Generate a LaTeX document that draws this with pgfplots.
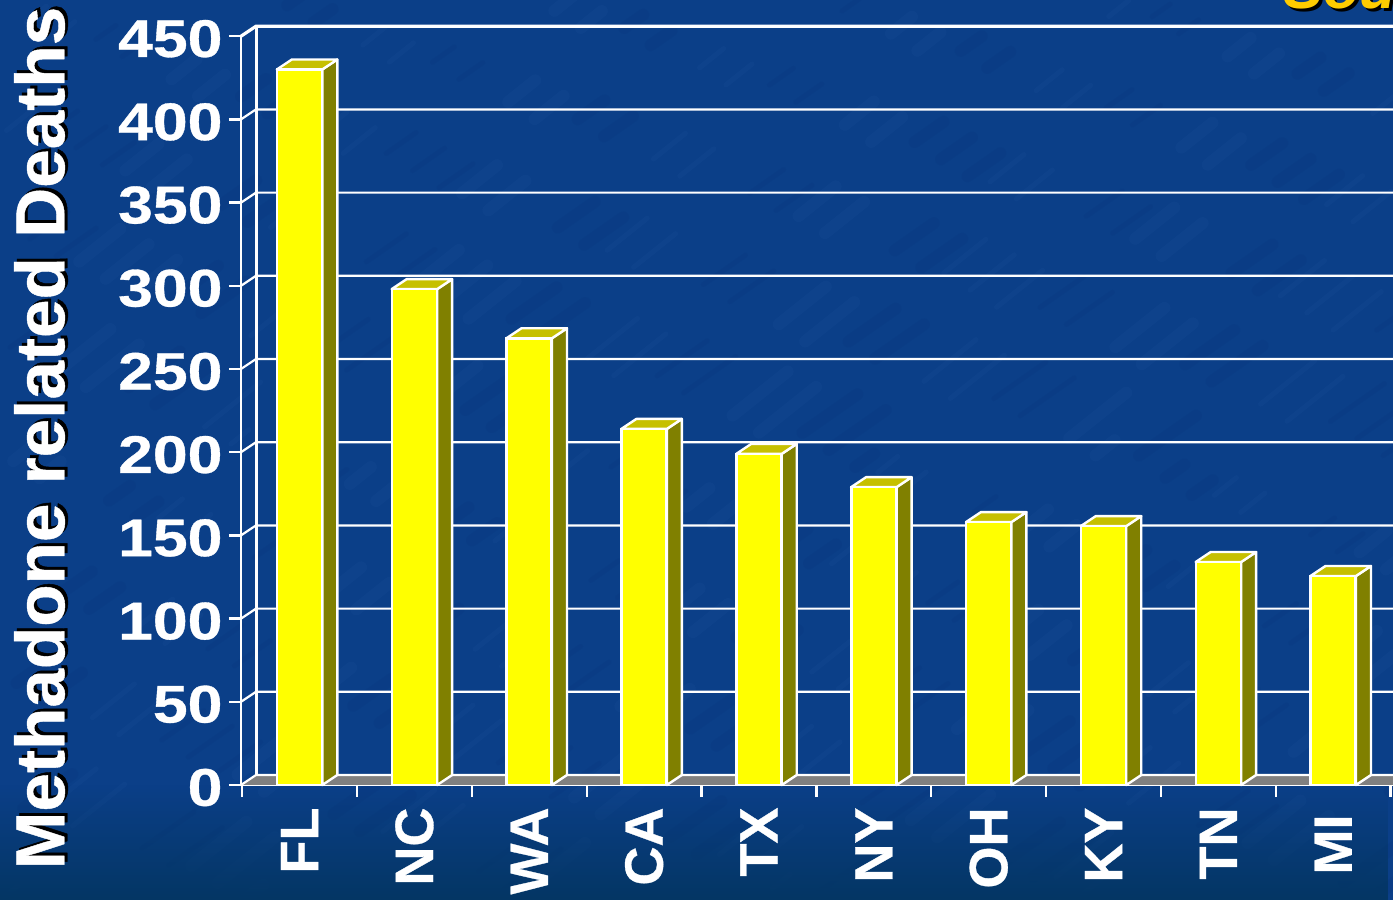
\documentclass[border=0pt]{standalone}
\usepackage{pgfplots}
\usepackage{pgfplotstable}
\usepackage{fontspec}
\usetikzlibrary{fadings}
\setmainfont[BoldFeatures={FakeBold=0.6}]{Liberation Sans}
\pgfplotsset{compat=1.18}
\definecolor{bgtop}{RGB}{11,63,136}
\definecolor{bgbot}{RGB}{4,54,100}
\definecolor{barfront}{RGB}{255,255,0}
\definecolor{barside}{RGB}{128,128,0}
\definecolor{bartop}{RGB}{198,192,0}
\definecolor{floorgray}{RGB}{128,128,128}
\definecolor{gold}{RGB}{255,204,0}
\definecolor{streak}{RGB}{70,130,200}
\definecolor{streakd}{RGB}{0,40,110}
\pgfplotstableread{
x v
0 430
1 298
2 268.5
3 214
4 199
5 179
6 158
7 155.6
8 134
9 125.6
}\deaths
\newcommand\dx{0.1305}
\newcommand\dy{6}
\newcommand\hw{0.198}
\newcommand\xl{-0.51}
\newcommand\xr{9.52}
% depth faces of one bar: centre, value
\newcommand\faces[2]{%
  \pgfmathsetmacro\xa{#1+\hw}%
  \pgfmathsetmacro\xb{#1+\hw+\dx}%
  \pgfmathsetmacro\xc{#1-\hw+\dx}%
  \pgfmathsetmacro\xd{#1-\hw}%
  \pgfmathsetmacro\yt{#2+\dy}%
  \addplot[fill=barside,draw=white,line width=2.4pt,line join=round] coordinates {(\xa,0)(\xb,\dy)(\xb,\yt)(\xa,#2)} --cycle;
  \addplot[fill=bartop,draw=white,line width=2.4pt,line join=round] coordinates {(\xd,#2)(\xc,\yt)(\xb,\yt)(\xa,#2)} --cycle;
}
\newcommand\grid[2]{%
  \pgfmathsetmacro\xq{\xl+\dx}%
  \pgfmathsetmacro\yq{#1+\dy}%
  \addplot[white,line width=#2] coordinates {(\xl,#1)(\xq,\yq)(\xr,\yq)};
}
\begin{document}
\begin{tikzpicture}[x=1pt,y=1pt]
\path[use as bounding box] (0,0) rectangle (1393,900);
\clip (0,0) rectangle (1393,900);
\fill[bgtop] (0,0) rectangle (1393,900);
% mottled backdrop: faint diagonal streaks
\foreach \i in {0,...,160}{
  \pgfmathsetmacro\px{6.6*mod(\i*97,211)}
  \pgfmathsetmacro\py{5.7*mod(\i*53,157)}
  \pgfmathsetmacro\ll{18+mod(\i*13,40)}
  \pgfmathsetmacro\lw{5+mod(\i*7,14)}
  \draw[streak,opacity=0.06,line width=\lw pt,line cap=round] (\px,\py) -- ++(\ll,0.8*\ll);
  \draw[streakd,opacity=0.09,line width=\lw pt,line cap=round] ({mod(\px+611,1393)},{mod(\py+433,900)}) -- ++(\ll,0.7*\ll);
}
\fill[bgbot,path fading=north] (0,0) rectangle (1393,115);
\begin{axis}[
  at={(241pt,115pt)},anchor=south west,scale only axis,
  width=1152pt,height=748.8pt,
  xmin=\xl,xmax=\xr,ymin=0,ymax=450,clip=false,
  axis lines=left,
  axis line style={white,line width=2.4pt,-},
  every tick/.style={white,line width=2.4pt},
  major tick length=12pt,
  tick align=outside,
  xtick={-0.5,0.5,1.5,2.5,3.5,4.5,5.5,6.5,7.5,8.5,9.5},
  xticklabels={},
  extra x ticks={0,1,2,3,4,5,6,7,8,9},
  extra x tick labels={FL,NC,WA,CA,TX,NY,OH,KY,TN,MI\hspace*{7pt}},
  extra x tick style={major tick length=0pt,
    tick label style={rotate=90,anchor=east,yshift=0pt,xshift=-19pt,text=white,
      font=\fontsize{54}{54}\bfseries\selectfont}},
  ytick={0,50,100,150,200,250,300,350,400,450},
  yticklabel={\scalebox{1.18}[1]{\pgfmathprintnumber{\tick}}},
  /pgf/number format/assume math mode=true,
  y tick label style={anchor=east,xshift=-3pt,yshift=-2.5pt,text=white,
    font=\fontsize{53}{53}\bfseries\selectfont},
  ylabel={\makebox[0pt][l]{\raisebox{-3pt}{\hspace{3pt}\color{black}Methadone related Deaths}}Methadone related Deaths},
  every axis y label/.style={at={(axis description cs:-0.1736,0.4634)},rotate=90,anchor=center,text=white,
    font=\fontsize{69.3}{69}\bfseries\selectfont},
]
% floor
\addplot[fill=floorgray,draw=none] coordinates {(\xl,0)(-0.375,6)(9.52,6)(9.52,0)} --cycle;
\addplot[white,line width=1.5pt] coordinates {(-0.375,6)(9.52,6)};
% back wall
\addplot[white,line width=2.4pt] coordinates {(-0.375,6)(-0.375,456)};
\grid{0}{2.2pt}
\grid{50}{2.2pt}
\grid{100}{2.2pt}
\grid{150}{2.2pt}
\grid{200}{2.2pt}
\grid{250}{2.2pt}
\grid{300}{2.2pt}
\grid{350}{2.2pt}
\grid{400}{2.2pt}
\grid{450}{3.2pt}
% bars
\faces{0}{430}
\faces{1}{298}
\faces{2}{268.5}
\faces{3}{214}
\faces{4}{199}
\faces{5}{179}
\faces{6}{158}
\faces{7}{155.6}
\faces{8}{134}
\faces{9}{125.6}
\addplot[ybar,bar width=45pt,bar shift=0pt,fill=barfront,draw=white,line width=2.6pt] table[x=x,y=v] {\deaths};
\end{axis}
\node[anchor=base west,text=black,font=\fontsize{60}{60}\bfseries\itshape\selectfont,inner sep=0pt] at (1286,888) {Source};
\node[anchor=base west,text=gold,font=\fontsize{60}{60}\bfseries\itshape\selectfont,inner sep=0pt] at (1283,891) {Source};
\end{tikzpicture}
\end{document}
